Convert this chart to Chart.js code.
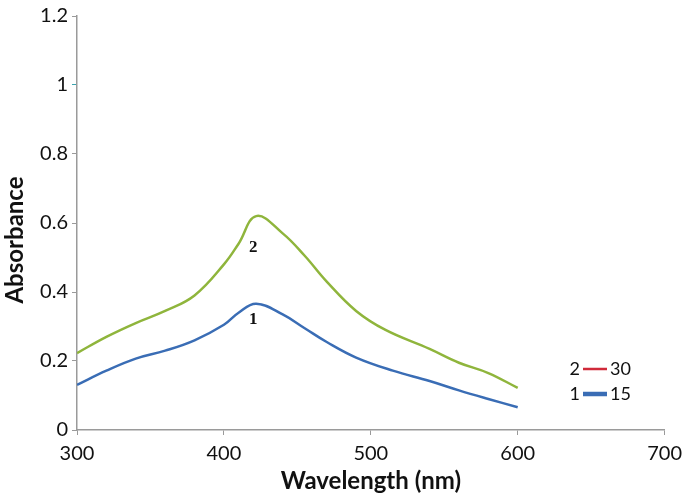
<!DOCTYPE html>
<html>
<head>
<meta charset="utf-8">
<script src="https://cdn.jsdelivr.net/npm/chart.js@4.4.1/dist/chart.umd.min.js"></script>
<style>
  html, body { margin: 0; padding: 0; background: #fff; }
  #wrap { width: 689px; height: 496px; position: relative; }
</style>
</head>
<body>
<div id="wrap"><canvas id="uvChart"></canvas></div>
<script>
// wavelength (nm) / absorbance
const wl30 = [300, 320, 340, 360, 380, 400, 410, 422, 440, 455, 470, 490, 510, 540, 560, 580, 600];
const abs30 = [0.223, 0.27, 0.31, 0.345, 0.39, 0.48, 0.54, 0.62, 0.57, 0.505, 0.43, 0.345, 0.29, 0.235, 0.195, 0.165, 0.122];
const wl15 = [300, 320, 340, 360, 380, 400, 410, 422, 440, 455, 470, 490, 515, 540, 560, 580, 600];
const abs15 = [0.131, 0.172, 0.207, 0.23, 0.26, 0.305, 0.34, 0.366, 0.335, 0.295, 0.255, 0.21, 0.172, 0.142, 0.115, 0.09, 0.066];

const xTicks = [300, 400, 500, 600, 700];
const yTicks = [0, 0.2, 0.4, 0.6, 0.8, 1, 1.2];

// curve labels: [text, wavelength, absorbance]
const curveLabels = [['2', 420, 0.53], ['1', 420, 0.32]];
// legend rows: [number, colour, width, concentration]
const legendRows = [['2', '#d02a3a', 2.5, '30'], ['1', '#3a6db5', 4.5, '15']];

const GREEN = '#8fb53c';
const BLUE = '#3a6db5';
const AXIS = '#9a9a9a';
const FONT = 'Lato, "Open Sans", sans-serif';

function pairs(xs, ys) {
    return xs.map((x, i) => ({ x: x, y: ys[i] }));
}

const annotatePlugin = {
    id: 'annotate',
    afterDraw(chart) {
        const ctx = chart.ctx;
        const xs = chart.scales.x, ys = chart.scales.y;
        ctx.save();
        ctx.fillStyle = '#111';
        ctx.font = 'bold 17px "Liberation Serif", serif';
        ctx.textAlign = 'center';
        ctx.textBaseline = 'middle';
        curveLabels.forEach(l => {
            ctx.fillText(l[0], xs.getPixelForValue(l[1]), ys.getPixelForValue(l[2]));
        });

        // y axis title, sitting a little below the middle as in the original
        ctx.save();
        ctx.translate(15, 240);
        ctx.rotate(-Math.PI / 2);
        ctx.font = 'bold 24px ' + FONT;
        ctx.fillText('Absorbance', 0, 0);
        ctx.restore();

        // legend at the lower right
        ctx.font = '18px ' + FONT;
        let y = 369;
        legendRows.forEach(r => {
            ctx.textAlign = 'right';
            ctx.fillText(r[0], 580, y);
            ctx.strokeStyle = r[1];
            ctx.lineWidth = r[2];
            ctx.beginPath();
            ctx.moveTo(583, y);
            ctx.lineTo(607, y);
            ctx.stroke();
            ctx.textAlign = 'left';
            ctx.fillText(r[3], 610, y);
            y += 25;
        });
        ctx.restore();
    }
};

new Chart(document.getElementById('uvChart'), {
    type: 'line',
    data: {
        datasets: [{
            label: '30',
            data: pairs(wl30, abs30),
            borderColor: GREEN,
            borderWidth: 2.5,
            pointRadius: 0,
            tension: 0.4,
            fill: false
        }, {
            label: '15',
            data: pairs(wl15, abs15),
            borderColor: BLUE,
            borderWidth: 2.5,
            pointRadius: 0,
            tension: 0.4,
            fill: false
        }]
    },
    options: {
        responsive: true,
        maintainAspectRatio: false,
        animation: false,
        layout: { padding: { top: 10, right: 22, left: 0, bottom: 0 } },
        plugins: {
            legend: { display: false },
            tooltip: { enabled: false }
        },
        scales: {
            x: {
                type: 'linear',
                min: 300,
                max: 700,
                afterBuildTicks: axis => { axis.ticks = xTicks.map(v => ({ value: v })); },
                afterFit: axis => { axis.height = 66; },
                border: { color: AXIS, width: 1.5 },
                grid: { drawOnChartArea: false, drawTicks: true, tickLength: 5, color: AXIS },
                ticks: { color: '#111', font: { family: FONT, size: 20 }, padding: 7 },
                title: {
                    display: true,
                    text: 'Wavelength (nm)',
                    color: '#111',
                    font: { family: FONT, size: 24, weight: 'bold' },
                    padding: { top: 0, bottom: 0 }
                }
            },
            y: {
                min: 0,
                max: 1.2,
                afterBuildTicks: axis => { axis.ticks = yTicks.map(v => ({ value: v })); },
                afterFit: axis => { axis.width = 77; },
                border: { color: AXIS, width: 1.5 },
                grid: {
                    drawOnChartArea: false,
                    drawTicks: true,
                    tickLength: 5,
                    color: AXIS,
                    tickColor: c => (c.tick && c.tick.value === 1 ? '#3aa5b0' : AXIS)
                },
                ticks: {
                    color: '#111',
                    font: { family: FONT, size: 20 },
                    padding: 4,
                    callback: v => String(v)
                },
                title: { display: false }
            }
        }
    },
    plugins: [annotatePlugin]
});
</script>
</body>
</html>
